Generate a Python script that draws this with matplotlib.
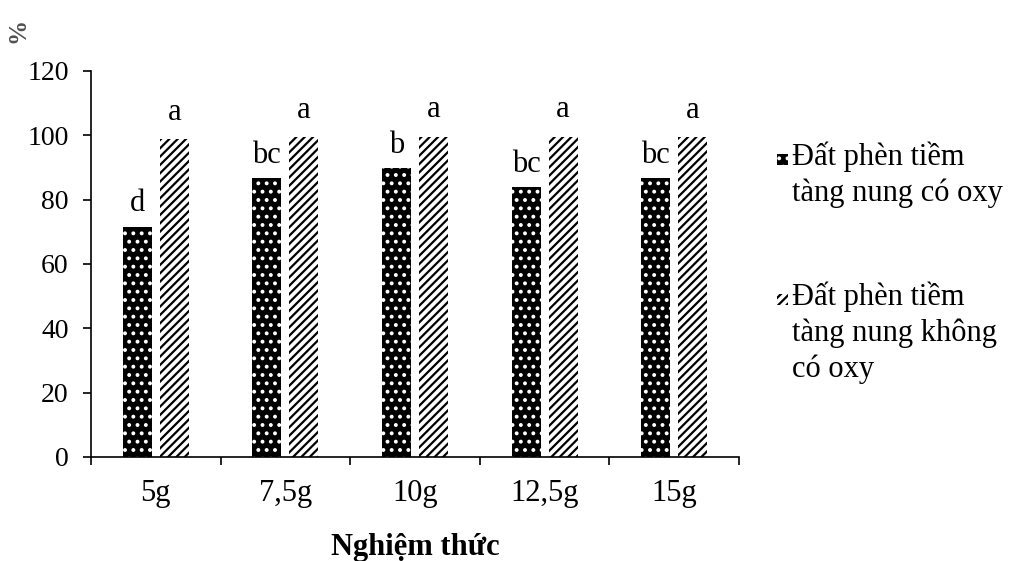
import matplotlib
matplotlib.use("Agg")
import matplotlib.pyplot as plt
from matplotlib.patches import Rectangle
import numpy as np

categories = ["5g", "7,5g", "10g", "12,5g", "15g"]
series_names = ["Đất phèn tiềm\ntàng nung có oxy", "Đất phèn tiềm\ntàng nung không\ncó oxy"]
with_oxy = [71.6, 86.6, 89.7, 83.8, 86.6]
without_oxy = [98.8, 99.4, 99.6, 99.6, 99.4]
letters_with = ["d", "bc", "b", "bc", "bc"]
letters_without = ["a", "a", "a", "a", "a"]
yticks = [0, 20, 40, 60, 80, 100, 120]

plt.rcParams['font.family'] = ['Liberation Serif', 'DejaVu Serif']
plt.rcParams['hatch.linewidth'] = 1.6
FS = 20
FS2 = 22

fig = plt.figure(figsize=(10.13, 5.61), dpi=100)
ax = fig.add_axes([91/1013, 1-457/561, (739-91)/1013, (457-71)/561])

x = np.arange(len(categories))
w = 0.224
off = 0.143
styles = [dict(facecolor='black', edgecolor='white', hatch='..'),
          dict(facecolor='white', edgecolor='black', hatch='////')]

b1 = ax.bar(x - off, with_oxy, w, linewidth=0, label=series_names[0], **styles[0])
b2 = ax.bar(x + off, without_oxy, w, linewidth=0, label=series_names[1], **styles[1])

for xi, v, t in zip(x - off, with_oxy, letters_with):
    ax.annotate(t, (xi, v), xytext=(0, 11), textcoords='offset points',
                ha='center', va='baseline', fontsize=FS2)
for xi, v, t in zip(x + off, without_oxy, letters_without):
    ax.annotate(t, (xi, v), xytext=(0, 14), textcoords='offset points',
                ha='center', va='baseline', fontsize=FS2)

ax.set_xlim(-0.5, len(categories) - 0.5)
ax.set_ylim(0, 120)
ax.set_yticks(yticks)
ax.set_yticklabels([str(t) for t in yticks], fontsize=FS)
ax.set_xticks(x)
ax.set_xticklabels(categories, fontsize=FS2)
ax.set_xticks(np.arange(len(categories) + 1) - 0.5, minor=True)
ax.tick_params(axis='x', which='major', length=0, pad=16)
ax.tick_params(axis='x', which='minor', length=6, width=1.2, direction='out')
ax.tick_params(axis='y', length=6, width=1.2, direction='out', pad=10)
for s in ['top', 'right']:
    ax.spines[s].set_visible(False)
for s in ['left', 'bottom']:
    ax.spines[s].set_linewidth(1.2)

ax.set_xlabel("Nghiệm thức", fontsize=FS2, fontweight='bold', labelpad=18)
fig.text(18/1013, 1-30/561, "%", rotation=90, fontsize=18, fontweight='bold',
         color='#505050', ha='center', va='center')

# legend (built from series names and bar styles)
leg_top = [160, 300]
for name, st, yc in zip(series_names, styles, leg_top):
    fig.add_artist(Rectangle((777/1013, 1-(yc+5)/561), 11/1013, 11/561,
                             transform=fig.transFigure, linewidth=0, **st))
    fig.text(792/1013, 1-(yc-19)/561, name, fontsize=FS2, va='top', ha='left',
             linespacing=1.3)

fig.savefig("out.png", dpi=100)
